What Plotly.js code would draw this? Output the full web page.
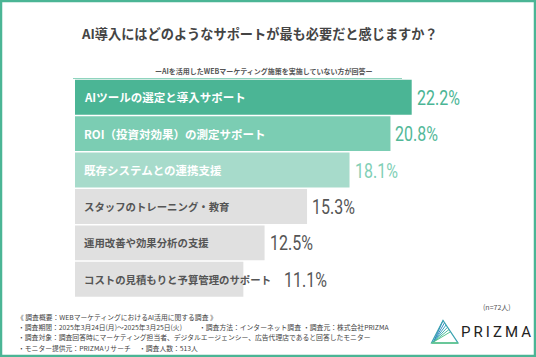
<!DOCTYPE html>
<html>
<head>
<meta charset="utf-8">
<script src="https://cdn.plot.ly/plotly-3.0.1.min.js"></script>
<style>html,body{margin:0;padding:0;background:#fff;}#chart{width:536px;height:357px;}</style>
</head>
<body>
<div id="chart"></div>
<script>
// ---- data ----
const categories = [
  "AIツールの選定と導入サポート",
  "ROI（投資対効果）の測定サポート",
  "既存システムとの連携支援",
  "スタッフのトレーニング・教育",
  "運用改善や効果分析の支援",
  "コストの見積もりと予算管理のサポート"
];
const values = [22.2, 20.8, 18.1, 15.3, 12.5, 11.1];
const valueLabels = ["22.2%", "20.8%", "18.1%", "15.3%", "12.5%", "11.1%"];

const titleText = "AI導入にはどのようなサポートが最も必要だと感じますか？";
const subtitleText = "ーAIを活用したWEBマーケティング施策を実施していない方が回答ー";
const sampleText = "(n=72人)";
const footerLines = [
  ["《 調査概要：WEBマーケティングにおけるAI活用に関する調査 》"],
  ["・調査期間：2025年3月24日(月)〜2025年3月25日(火)", "・調査方法：インターネット調査", "・調査元：株式会社PRIZMA"],
  ["・調査対象：調査回答時にマーケティング担当者、デジタルエージェンシー、広告代理店であると回答したモニター"],
  ["・モニター提供元：PRIZMAリサーチ", "・調査人数：513人"]
];
const logoText = "PRIZMA";

// ---- styles ----
const W = 536, H = 357;
const px = x => x / W;
const py = y => 1 - y / H;
const barColors = ["#4bb595", "#7bcdb3", "#a7dbcb", "#e0e0e0", "#e0e0e0", "#e0e0e0"];
const labelColors = ["#ffffff", "#ffffff", "#ffffff", "#555555", "#555555", "#555555"];
const labelSizes = [11.5, 11.5, 11.5, 10.4, 10.4, 10.4];
const valueColors = ["#4bb595", "#52b898", "#7fcfb6", "#555555", "#555555", "#555555"];
const cjk = "'Noto Sans CJK JP', 'Noto Sans', sans-serif";
const numFont = "Roboto, sans-serif";
const valueSqueeze = 0.82;

const xLeft = 75, xRight = 530, xMax = 30;
const pxPerUnit = (xRight - xLeft) / xMax;
const footerX = [[15], [16, 197, 301], [16], [16, 137]];
const footerY = [316.5, 326.5, 337, 348];

function textWidthEm(s) {
  let w = 0;
  for (const ch of s) w += ch.charCodeAt(0) < 0x2000 ? 0.6 : 1;
  return w;
}

const annotations = [];
const valueIdx = [];
annotations.push({xref: 'paper', yref: 'paper', x: px(259), y: py(33), xanchor: 'center', yanchor: 'middle',
  text: '<b>' + titleText + '</b>', showarrow: false, font: {family: cjk, size: 13.2, color: '#444444'}});
annotations.push({xref: 'paper', yref: 'paper', x: px(264), y: py(71), xanchor: 'center', yanchor: 'middle',
  text: '<b>' + subtitleText + '</b>', showarrow: false, font: {family: cjk, size: 7, color: '#555555'}});

categories.forEach((c, i) => {
  annotations.push({xref: 'x', yref: 'y', x: 0, y: c, xanchor: 'left', yanchor: 'middle', xshift: 7,
    text: '<b>' + c + '</b>', showarrow: false, font: {family: cjk, size: labelSizes[i], color: labelColors[i]}});
  const barEnd = xLeft + values[i] * pxPerUnit;
  const labelEnd = xLeft + 8 + textWidthEm(c) * labelSizes[i];
  const vx = Math.max(barEnd + 3, labelEnd + 12);
  valueIdx.push(annotations.length);
  annotations.push({xref: 'x', yref: 'y', x: (vx - xLeft) / pxPerUnit, y: c, xanchor: 'left', yanchor: 'middle', yshift: -1,
    text: valueLabels[i], showarrow: false, font: {family: numFont, size: 19.5, color: valueColors[i]}});
});

footerLines.forEach((line, li) => {
  line.forEach((seg, si) => {
    annotations.push({xref: 'paper', yref: 'paper', x: px(footerX[li][si]), y: py(footerY[li]), xanchor: 'left', yanchor: 'middle',
      text: seg, showarrow: false, font: {family: cjk, size: 6.8, color: '#444444'}});
  });
});
annotations.push({xref: 'paper', yref: 'paper', x: px(497), y: py(307), xanchor: 'center', yanchor: 'middle',
  text: sampleText, showarrow: false, font: {family: cjk, size: 7, color: '#555555'}});
annotations.push({xref: 'paper', yref: 'paper', x: px(496), y: py(332), xanchor: 'center', yanchor: 'middle',
  text: logoText.split('').join('\u2009'), showarrow: false, font: {family: "Roboto, 'Open Sans', sans-serif", size: 15, color: '#222222'}});

const shapes = [];
shapes.push({type: 'rect', xref: 'paper', yref: 'paper', x0: px(1), x1: px(535), y0: py(1), y1: py(356),
  line: {color: '#4bb595', width: 2.5}, fillcolor: 'rgba(0,0,0,0)'});
shapes.push({type: 'line', xref: 'paper', yref: 'paper', x0: px(73), x1: px(402), y0: py(78.5), y1: py(78.5),
  line: {color: '#8fd4be', width: 1.2}});
// logo icon
const apex = [443, 320.5], bl = [431.5, 343], br = [458, 343];
const fanColors = ['#2f7fc1', '#3590c3', '#3ba0c0', '#42b0b4', '#4bbd9f', '#55c48c'];
for (let k = 0; k < 6; k++) {
  const t = k / 5;
  shapes.push({type: 'line', xref: 'paper', yref: 'paper', x0: px(bl[0] + 2), y0: py(bl[1] - 1), x1: px(apex[0] + (br[0]-apex[0]) * t * 0.5), y1: py(apex[1] + (br[1]-apex[1]) * t * 0.5),
    line: {color: fanColors[k], width: 1}});
}
shapes.push({type: 'path', xref: 'paper', yref: 'paper',
  path: `M ${px(apex[0])} ${py(apex[1])} L ${px(bl[0])} ${py(bl[1])} L ${px(br[0])} ${py(br[1])} Z`,
  line: {color: '#3aa3b0', width: 1.2}, fillcolor: 'rgba(0,0,0,0)'});
shapes.push({type: 'line', xref: 'paper', yref: 'paper', x0: px(bl[0]), y0: py(bl[1]), x1: px(br[0]), y1: py(br[1]),
  line: {color: '#5cc48a', width: 1.6}});

const data = [{
  type: 'bar', orientation: 'h', x: values, y: categories,
  marker: {color: barColors, line: {width: 0}},
  hoverinfo: 'none', textposition: 'none'
}];

const layout = {
  width: W, height: H,
  margin: {l: 0, r: 0, t: 0, b: 0},
  paper_bgcolor: '#ffffff', plot_bgcolor: 'rgba(0,0,0,0)',
  showlegend: false,
  bargap: 0.04,
  xaxis: {domain: [px(xLeft), px(xRight)], range: [0, xMax], visible: false, fixedrange: true},
  yaxis: {domain: [py(297.5), py(79)], type: 'category', categoryarray: categories, range: [5.5, -0.5], visible: false, fixedrange: true},
  annotations: annotations,
  shapes: shapes
};

Plotly.newPlot('chart', data, layout, {displayModeBar: false, staticPlot: true}).then(gd => {
  // condense the value labels horizontally (narrow numeric face in the original)
  valueIdx.forEach(idx => {
    const g = gd.querySelector('.annotation[data-index="' + idx + '"] text.annotation-text');
    if (!g) return;
    const bb = g.getBBox();
    const x0 = bb.x;
    g.setAttribute('transform', `translate(${x0},0) scale(${valueSqueeze},1) translate(${-x0},0)`);
  });
});
</script>
</body>
</html>
